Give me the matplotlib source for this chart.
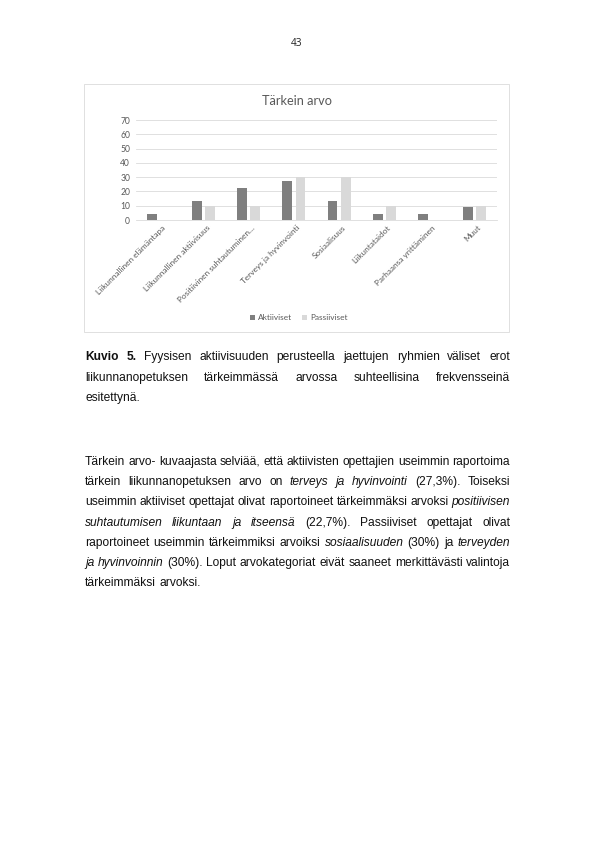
import matplotlib
matplotlib.use("Agg")
import matplotlib.pyplot as plt
from matplotlib.patches import Rectangle
import numpy as np

# data
kategoriat = ["Liikunnallinen elämäntapa", "Liikunnallinen aktiivisuus",
              "Positiivinen suhtautuminen…", "Terveys ja hyvinvointi",
              "Sosiaalisuus", "Liikuntataidot", "Parhaansa yrittäminen", "Muut"]
aktiiviset = [4.5, 13.6, 22.7, 27.3, 13.6, 4.5, 4.5, 9.1]
passiiviset = [0, 10, 10, 30, 30, 10, 0, 10]
y_ticks = [0, 10, 20, 30, 40, 50, 60, 70]

W, H = 595, 841
fig = plt.figure(figsize=(W / 72, H / 72), dpi=72)

def px(x, y):
    return x / W, 1 - y / H

# sivunumero
fig.text(*px(297, 43), "43", ha="center", va="center", fontsize=10,
         family="Open Sans", color="#222222")

# kaavion kehys
fig.patches.append(Rectangle(px(84, 332), 425 / W, 248 / H, transform=fig.transFigure,
                             fill=False, edgecolor="#d9d9d9", linewidth=0.8))

cfont = "Lato"
grey = "#595959"
ax = fig.add_axes([136 / W, 1 - 220 / H, 361 / W, 100 / H])
x = np.arange(len(kategoriat))
bw = 0.22
ax.bar(x - 0.145, aktiiviset, bw, color="#7f7f7f", label="Aktiiviset", zorder=3)
ax.bar(x + 0.145, passiiviset, bw, color="#d9d9d9", label="Passiiviset", zorder=3)
ax.set_xlim(-0.5, len(kategoriat) - 0.5)
ax.set_ylim(0, 70)
ax.set_yticks(y_ticks)
ax.set_yticklabels([str(v) for v in y_ticks], fontsize=8.5, family=cfont, color=grey)
ax.yaxis.grid(True, color="#d9d9d9", linewidth=0.8, zorder=0)
for s in ["top", "right", "left"]:
    ax.spines[s].set_visible(False)
ax.spines["bottom"].set_color("#d9d9d9")
ax.tick_params(axis="both", length=0, pad=6)
ax.set_xticks(x + 0.06)
ax.set_xticklabels(kategoriat, rotation=45, ha="right", va="top",
                   rotation_mode="anchor", fontsize=8.3, family=cfont, color=grey)
ax.tick_params(axis="x", pad=4)

fig.text(*px(297, 101), "Tärkein arvo", ha="center", va="center",
         fontsize=12.8, family=cfont, color=grey)
fig.legend(loc="center", bbox_to_anchor=px(299, 318), ncol=2, frameon=False,
           prop={"family": cfont, "size": 8.3}, handlelength=0.6, handleheight=0.6,
           columnspacing=1.2, handletextpad=0.4, labelcolor=grey)

# tekstit
bfont = "Liberation Sans"
bsize = 12
LEFT, RIGHT = 85, 510
renderer = fig.canvas.get_renderer()

def leveys(s, style, weight):
    t = fig.text(0, 0, s, fontsize=bsize, family=bfont, style=style, weight=weight)
    w = t.get_window_extent(renderer).width
    t.remove()
    return w

def rivi(y, sanat, tasaa=True):
    # sanat: lista (teksti, tyyli, paino); y = rivin keskikohta
    ws = [leveys(s, st, wt) for s, st, wt in sanat]
    if tasaa and len(sanat) > 1:
        gap = (RIGHT - LEFT - sum(ws)) / (len(sanat) - 1)
    else:
        gap = leveys("a b", "normal", "normal") - leveys("ab", "normal", "normal")
    xx = LEFT
    for (s, st, wt), w in zip(sanat, ws):
        fig.text(*px(xx, y + 4), s, fontsize=bsize, family=bfont, style=st, weight=wt,
                 va="baseline", ha="left", color="#111111")
        xx += w + gap

def sanoiksi(osat):
    out = []
    for teksti, st, wt in osat:
        for s in teksti.split():
            out.append((s, st, wt))
    return out

N, I, B = "normal", "italic", "bold"
rivi(356, sanoiksi([("Kuvio 5.", N, B), ("Fyysisen aktiivisuuden perusteella jaettujen ryhmien väliset erot", N, N)]))
rivi(377, sanoiksi([("liikunnanopetuksen tärkeimmässä arvossa suhteellisina frekvensseinä", N, N)]))
rivi(397, sanoiksi([("esitettynä.", N, N)]), tasaa=False)

body = [
    [("Tärkein arvo- kuvaajasta selviää, että aktiivisten opettajien useimmin raportoima", N, N)],
    [("tärkein liikunnanopetuksen arvo on", N, N), ("terveys ja hyvinvointi", I, N), ("(27,3%). Toiseksi", N, N)],
    [("useimmin aktiiviset opettajat olivat raportoineet tärkeimmäksi arvoksi", N, N), ("positiivisen", I, N)],
    [("suhtautumisen liikuntaan ja itseensä", I, N), ("(22,7%). Passiiviset opettajat olivat", N, N)],
    [("raportoineet useimmin tärkeimmiksi arvoiksi", N, N), ("sosiaalisuuden", I, N), ("(30%) ja", N, N), ("terveyden", I, N)],
    [("ja hyvinvoinnin", I, N), ("(30%). Loput arvokategoriat eivät saaneet merkittävästi valintoja", N, N)],
]
y0 = 461
for i, osat in enumerate(body):
    rivi(y0 + i * 20.2, sanoiksi(osat))
rivi(y0 + 6 * 20.2, sanoiksi([("tärkeimmäksi arvoksi.", N, N)]), tasaa=False)

fig.savefig("out.png", dpi=72)
